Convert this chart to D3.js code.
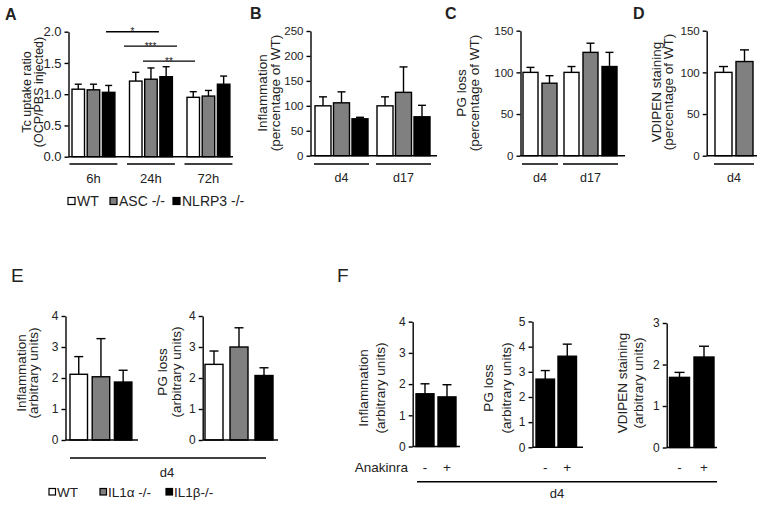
<!DOCTYPE html>
<html>
<head>
<meta charset="utf-8">
<title>Inflammasome figure</title>
<script src="https://cdn.jsdelivr.net/npm/d3@7"></script>
<style>
  body { margin: 0; background: #fff; }
  svg text { font-family: "Liberation Sans", Arial, Helvetica, sans-serif; fill: #222; }
  .axis path, .axis line { stroke: #000; stroke-width: 1.4; fill: none; }
  .rule { stroke: #000; stroke-width: 1.4; }
</style>
</head>
<body>
<script>
// ---------- data ----------
// A: Tc uptake ratio
var seriesA = ["WT", "ASC -/-", "NLRP3 -/-"];
var groupsA = ["6h", "24h", "72h"];
var meanA = [[1.08, 1.07, 1.03], [1.21, 1.24, 1.28], [0.95, 0.97, 1.16]];
var semA  = [[0.08, 0.09, 0.11], [0.14, 0.18, 0.16], [0.09, 0.09, 0.13]];
var ticksA = [0, 0.5, 1.0, 1.5, 2.0];
// significance bars, ends given in bar-slot units
var sigA = [
  {text: "*",   from: 2.24, to: 5.72, level: 2.0},
  {text: "***", from: 3.42, to: 6.91, level: 1.77},
  {text: "**",  from: 4.67, to: 8.09, level: 1.53}
];

// B: inflammation (% of WT)
var groupsB = ["d4", "d17"];
var meanB = [[100, 106, 74], [100, 127, 78]];
var semB  = [[18, 22, 3], [18, 51, 23]];
var ticksB = [0, 50, 100, 150, 200, 250];

// C: PG loss (% of WT)
var groupsC = ["d4", "d17"];
var meanC = [[100, 87], [100, 124, 107]];
var semC  = [[6, 9], [7, 11, 17]];
var ticksC = [0, 50, 100, 150];

// D: VDIPEN staining (% of WT)
var groupsD = ["d4"];
var meanD = [[100, 113]];
var semD  = [[7, 14]];
var ticksD = [0, 50, 100, 150];

// E: IL1 knockouts, day 4
var seriesE = ["WT", "IL1\u03b1 -/-", "IL1\u03b2-/-"];
var meanE1 = [2.12, 2.04, 1.87], semE1 = [0.57, 1.23, 0.38];
var meanE2 = [2.44, 3.00, 2.08], semE2 = [0.43, 0.62, 0.25];
var ticksE = [0, 1, 2, 3, 4];

// F: Anakinra, day 4
var treatF = ["-", "+"];
var meanF1 = [1.69, 1.59], semF1 = [0.32, 0.39];
var meanF2 = [2.71, 3.62], semF2 = [0.34, 0.48];
var meanF3 = [1.69, 2.18], semF3 = [0.12, 0.26];
var ticksF1 = [0, 1, 2, 3, 4];
var ticksF2 = [0, 1, 2, 3, 4, 5];
var ticksF3 = [0, 1, 2, 3];

// ---------- drawing ----------
var width = 762, height = 505;
var svg = d3.select("body").append("svg")
  .attr("width", width)
  .attr("height", height);

var fill3 = ["#ffffff", "#808080", "#000000"];
var fillF = ["#000000", "#000000"];

function yLabel(lines, xs, cy, size) {
  lines.forEach(function(t, i) {
    svg.append("text")
      .attr("transform", "translate(" + xs[i] + "," + cy + ") rotate(-90)")
      .attr("text-anchor", "middle")
      .attr("dy", "0.35em")
      .attr("font-size", size)
      .text(t);
  });
}

function panelLetter(t, x, y, size, bold) {
  svg.append("text").attr("x", x).attr("y", y)
    .attr("font-size", size)
    .attr("font-weight", bold ? "bold" : "normal")
    .text(t);
}

// draws one bar chart; returns scales and bar list
function barChart(p) {
  var y = d3.scaleLinear().domain([0, p.yMax]).range([p.bottom, p.top]);
  var x = d3.scaleLinear().domain([0, 1]).range([p.first, p.first + p.step]);
  var gapSlots = (p.gap || 0) / p.step;
  var items = [], spans = [], slot = 0;
  p.means.forEach(function(row, gi) {
    var start = slot;
    row.forEach(function(v, si) {
      items.push({v: v, e: p.sems[gi][si], slot: slot + si, fill: p.fills[si]});
    });
    spans.push({label: p.groups ? p.groups[gi] : "", a: start, b: start + row.length - 1});
    slot += row.length + gapSlots;
  });

  var g = svg.append("g");

  // error bars
  var eb = g.selectAll(".err").data(items).enter().append("g").attr("class", "err");
  eb.append("line").attr("class", "rule")
    .attr("x1", function(d) { return x(d.slot) + p.barW / 2; })
    .attr("x2", function(d) { return x(d.slot) + p.barW / 2; })
    .attr("y1", function(d) { return y(d.v); })
    .attr("y2", function(d) { return y(d.v + d.e); });
  eb.append("line").attr("class", "rule")
    .attr("x1", function(d) { return x(d.slot) + p.barW / 2 - p.capW / 2; })
    .attr("x2", function(d) { return x(d.slot) + p.barW / 2 + p.capW / 2; })
    .attr("y1", function(d) { return y(d.v + d.e); })
    .attr("y2", function(d) { return y(d.v + d.e); });

  // bars
  g.selectAll("rect").data(items).enter().append("rect")
    .attr("x", function(d) { return x(d.slot); })
    .attr("y", function(d) { return y(d.v); })
    .attr("width", p.barW)
    .attr("height", function(d) { return y(0) - y(d.v); })
    .attr("fill", function(d) { return d.fill; })
    .attr("stroke", "#000")
    .attr("stroke-width", 1.4);

  // y axis
  g.append("g").attr("class", "axis")
    .attr("transform", "translate(" + p.axisX + ",0)")
    .call(d3.axisLeft(y).tickValues(p.ticks).tickSize(4).tickSizeOuter(0).tickPadding(3)
      .tickFormat(p.fmt || d3.format("d")))
    .call(function(s) {
      s.selectAll("text").attr("font-size", p.tickFont).attr("fill", "#222");
      s.attr("font-family", null).attr("font-size", null);
    });

  // x baseline
  g.append("line").attr("class", "rule")
    .attr("x1", p.axisX).attr("x2", p.axisEnd)
    .attr("y1", y(0)).attr("y2", y(0));

  // group underlines + labels
  if (p.underY) {
    spans.forEach(function(s) {
      var x0 = x(s.a) - p.pad, x1 = x(s.b) + p.barW + p.pad;
      g.append("line").attr("class", "rule")
        .attr("x1", x0).attr("x2", x1).attr("y1", p.underY).attr("y2", p.underY);
      g.append("text").attr("x", (x0 + x1) / 2).attr("y", p.labelY)
        .attr("text-anchor", "middle").attr("font-size", p.labelFont)
        .text(s.label);
    });
  }
  return {x: x, y: y, items: items, barW: p.barW};
}

// ----- A -----
var cA = barChart({
  means: meanA, sems: semA, groups: groupsA, fills: fill3, yMax: 2, ticks: ticksA,
  fmt: d3.format(".1f"),
  axisX: 68.5, axisEnd: 233, top: 31.7, bottom: 156.7,
  first: 72, step: 15.2, barW: 12.5, gap: 11.9, capW: 7,
  tickFont: 13, underY: 164, labelY: 182.5, pad: 2.5, labelFont: 13
});
sigA.forEach(function(s) {
  var x0 = cA.x(s.from), x1 = cA.x(s.to), yy = cA.y(s.level);
  svg.append("line").attr("class", "rule")
    .attr("x1", x0).attr("x2", x1).attr("y1", yy).attr("y2", yy);
  svg.append("text").attr("x", (x0 + x1) / 2).attr("y", yy + 3.5)
    .attr("text-anchor", "middle").attr("font-size", 10).text(s.text);
});
yLabel(["Tc uptake ratio", "(OCP/PBS injected)"], [27, 38.5], 92, 12.5);
panelLetter("A", 5, 20, 16, true);

var legA = svg.selectAll(".legA").data(seriesA).enter().append("g")
  .attr("transform", function(d, i) { return "translate(" + [68, 110, 173][i] + ",197.5)"; });
legA.append("rect").attr("width", 7).attr("height", 7)
  .attr("fill", function(d, i) { return fill3[i]; })
  .attr("stroke", "#000").attr("stroke-width", 1.2);
legA.append("text").attr("x", 9).attr("y", 8).attr("font-size", 14).text(function(d) { return d; });

// ----- B -----
barChart({
  means: meanB, sems: semB, groups: groupsB, fills: fill3, yMax: 250, ticks: ticksB,
  axisX: 310.5, axisEnd: 437, top: 31, bottom: 155.7,
  first: 315, step: 18.5, barW: 16, gap: 6.5, capW: 8,
  tickFont: 11.5, underY: 164, labelY: 182, pad: 1, labelFont: 12.5
});
yLabel(["Inflammation", "(percentage of WT)"], [262.5, 275], 93, 13.5);
panelLetter("B", 250, 19, 16, true);

// ----- C -----
barChart({
  means: meanC, sems: semC, groups: groupsC, fills: fill3, yMax: 150, ticks: ticksC,
  axisX: 520.5, axisEnd: 625, top: 30.7, bottom: 155.7,
  first: 523, step: 19, barW: 15, gap: 3, capW: 8,
  tickFont: 11.5, underY: 164, labelY: 182, pad: 1, labelFont: 12.5
});
yLabel(["PG loss", "(percentage of WT)"], [461, 474], 93, 13.5);
panelLetter("C", 445, 19, 16, true);

// ----- D -----
barChart({
  means: meanD, sems: semD, groups: groupsD, fills: fill3, yMax: 150, ticks: ticksD,
  axisX: 706.7, axisEnd: 757, top: 30.7, bottom: 155.7,
  first: 715, step: 21, barW: 17, gap: 0, capW: 9,
  tickFont: 11.5, underY: 164, labelY: 182, pad: 1, labelFont: 12.5
});
yLabel(["VDIPEN staining", "(percentage of WT)"], [656, 668.5], 92, 13.5);
panelLetter("D", 633, 19, 16, true);

// ----- E -----
var cE1 = barChart({
  means: [meanE1], sems: [semE1], fills: fill3, yMax: 4, ticks: ticksE,
  axisX: 65.5, axisEnd: 138, top: 316, bottom: 440,
  first: 70, step: 22.2, barW: 17.5, capW: 9, tickFont: 12
});
var cE2 = barChart({
  means: [meanE2], sems: [semE2], fills: fill3, yMax: 4, ticks: ticksE,
  axisX: 202.7, axisEnd: 278, top: 316, bottom: 440,
  first: 205, step: 25, barW: 18, capW: 9, tickFont: 12
});
yLabel(["Inflammation", "(arbitrary units)"], [21, 33], 373, 13.5);
yLabel(["PG loss", "(arbitrary units)"], [162, 176], 372, 13.5);
panelLetter("E", 11, 282, 19, false);
svg.append("line").attr("class", "rule")
  .attr("x1", cE1.x(0)).attr("x2", cE2.x(2) + cE2.barW - 7)
  .attr("y1", 458).attr("y2", 458);
svg.append("text").attr("x", 167).attr("y", 476.5).attr("text-anchor", "middle")
  .attr("font-size", 13).text("d4");

var legE = svg.selectAll(".legE").data(seriesE).enter().append("g")
  .attr("transform", function(d, i) { return "translate(" + [49, 100, 166][i] + ",488.5)"; });
legE.append("rect").attr("width", 6.5).attr("height", 6.5)
  .attr("fill", function(d, i) { return fill3[i]; })
  .attr("stroke", "#000").attr("stroke-width", 1.2);
legE.append("text").attr("x", 8).attr("y", 8).attr("font-size", 13.5).text(function(d) { return d; });

// ----- F -----
var fCharts = [
  {m: meanF1, s: semF1, t: ticksF1, yMax: 4, axisX: 412.7, axisEnd: 460, top: 321.7, bottom: 446.5, first: 416, step: 22, barW: 18, capW: 9},
  {m: meanF2, s: semF2, t: ticksF2, yMax: 5, axisX: 532.5, axisEnd: 583, top: 321.5, bottom: 447.3, first: 536, step: 22, barW: 18.5, capW: 9},
  {m: meanF3, s: semF3, t: ticksF3, yMax: 3, axisX: 666.7, axisEnd: 717, top: 323, bottom: 447.5, first: 669.5, step: 24.5, barW: 20, capW: 10}
];
fCharts.forEach(function(f) {
  var c = barChart({
    means: [f.m], sems: [f.s], fills: fillF, yMax: f.yMax, ticks: f.t,
    axisX: f.axisX, axisEnd: f.axisEnd, top: f.top, bottom: f.bottom,
    first: f.first, step: f.step, barW: f.barW, capW: f.capW, tickFont: 12
  });
  svg.selectAll(null).data(treatF).enter().append("text")
    .attr("x", function(d, i) { return c.x(i) + c.barW / 2; })
    .attr("y", 471.5)
    .attr("text-anchor", "middle").attr("font-size", 13.5)
    .text(function(d) { return d; });
});
svg.append("text").attr("x", 408).attr("y", 471.5).attr("text-anchor", "end")
  .attr("font-size", 13.5).text("Anakinra");
svg.append("line").attr("class", "rule")
  .attr("x1", 417).attr("x2", 717).attr("y1", 481.7).attr("y2", 481.7);
svg.append("text").attr("x", 557).attr("y", 497.5).attr("text-anchor", "middle")
  .attr("font-size", 13).text("d4");
yLabel(["Inflammation", "(arbitrary units)"], [363, 380], 388, 13.5);
yLabel(["PG loss", "(arbitrary units)"], [488, 506], 388, 13.5);
yLabel(["VDIPEN staining", "(arbitrary units)"], [622, 638], 383, 13.5);
panelLetter("F", 337, 282, 19, false);
</script>
</body>
</html>
